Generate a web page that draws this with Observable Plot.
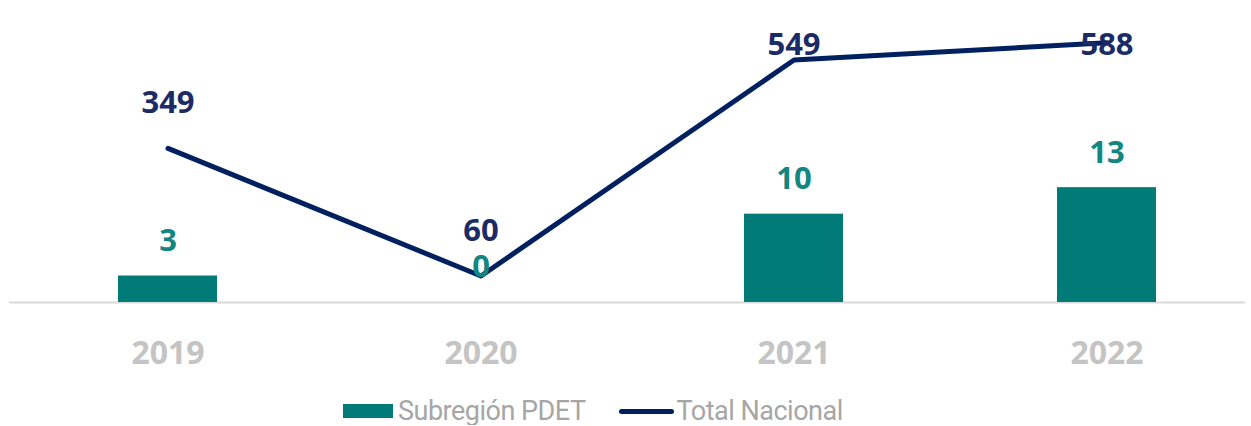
<!DOCTYPE html>
<html>
<head>
<meta charset="utf-8">
<script src="https://cdn.jsdelivr.net/npm/d3@7"></script>
<script src="https://cdn.jsdelivr.net/npm/@observablehq/plot@0.6"></script>
<style>
  html, body { margin: 0; padding: 0; background: #fff; }
  #chart svg { display: block; }
  .legend { display: flex; align-items: center; margin-left: 343px; margin-top: 17px; height: 28px;
            font-family: Roboto, sans-serif; font-size: 27px; letter-spacing: -0.5px; color: #a6a6a6; }
  .sw-bar { width: 50px; height: 14px; background: #007b77; margin-right: 5px; }
  .sw-line { width: 55px; height: 5px; background: #002060; border-radius: 3px; margin-left: 33px; margin-right: 3px; }
  .legend span { line-height: 28px; white-space: nowrap; }
</style>
</head>
<body>
<div id="chart"></div>
<div class="legend">
  <div class="sw-bar"></div><span>Subregión PDET</span>
  <div class="sw-line"></div><span>Total Nacional</span>
</div>
<script>
const years = ["2019", "2020", "2021", "2022"];
const subregionPDET = [3, 0, 10, 13];
const totalNacional = [349, 60, 549, 588];
const secondaryFactor = 20; // bars are on a secondary (hidden) axis

const barData = years.map((y, i) => ({year: y, value: subregionPDET[i]}));
const lineData = years.map((y, i) => ({year: y, value: totalNacional[i]}));

const teal = "#007b77";
const tealText = "#13877f";
const navy = "#002060";
const navyText = "#1b2b66";

const chart = Plot.plot({
  width: 1251,
  height: 380,
  marginTop: 37,
  marginBottom: 78,
  marginLeft: 9,
  marginRight: 6,
  style: {fontFamily: "'Open Sans', sans-serif"},
  x: {domain: years, range: [9, 1264], paddingInner: 0.684, paddingOuter: 0.342},
  y: {domain: [0, 600], axis: null},
  marks: [
    Plot.ruleY([0], {stroke: "#d9d9d9", strokeWidth: 2}),
    Plot.barY(barData, {x: "year", y: d => d.value * secondaryFactor, fill: teal}),
    Plot.lineY(lineData, {x: "year", y: "value", stroke: navy, strokeWidth: 5, strokeLinejoin: "round", strokeLinecap: "round"}),
    Plot.text(barData, {x: "year", y: d => d.value * secondaryFactor, text: d => String(d.value), dy: -35,
      fill: tealText, fontSize: 31, fontWeight: "bold"}),
    Plot.text(lineData.filter(d => d.year < "2021"), {x: "year", y: "value", text: d => String(d.value), dy: -45,
      fill: navyText, fontSize: 31, fontWeight: "bold"}),
    Plot.text(lineData.filter(d => d.year >= "2021"), {x: "year", frameAnchor: "top", text: d => String(d.value), dy: -5,
      fill: navyText, fontSize: 31, fontWeight: "bold"}),
    Plot.axisX({tickSize: 0, tickPadding: 39, fontSize: 32, fontWeight: "bold", fill: "#c4c4c4", label: null})
  ]
});
document.getElementById("chart").appendChild(chart);
</script>
</body>
</html>
